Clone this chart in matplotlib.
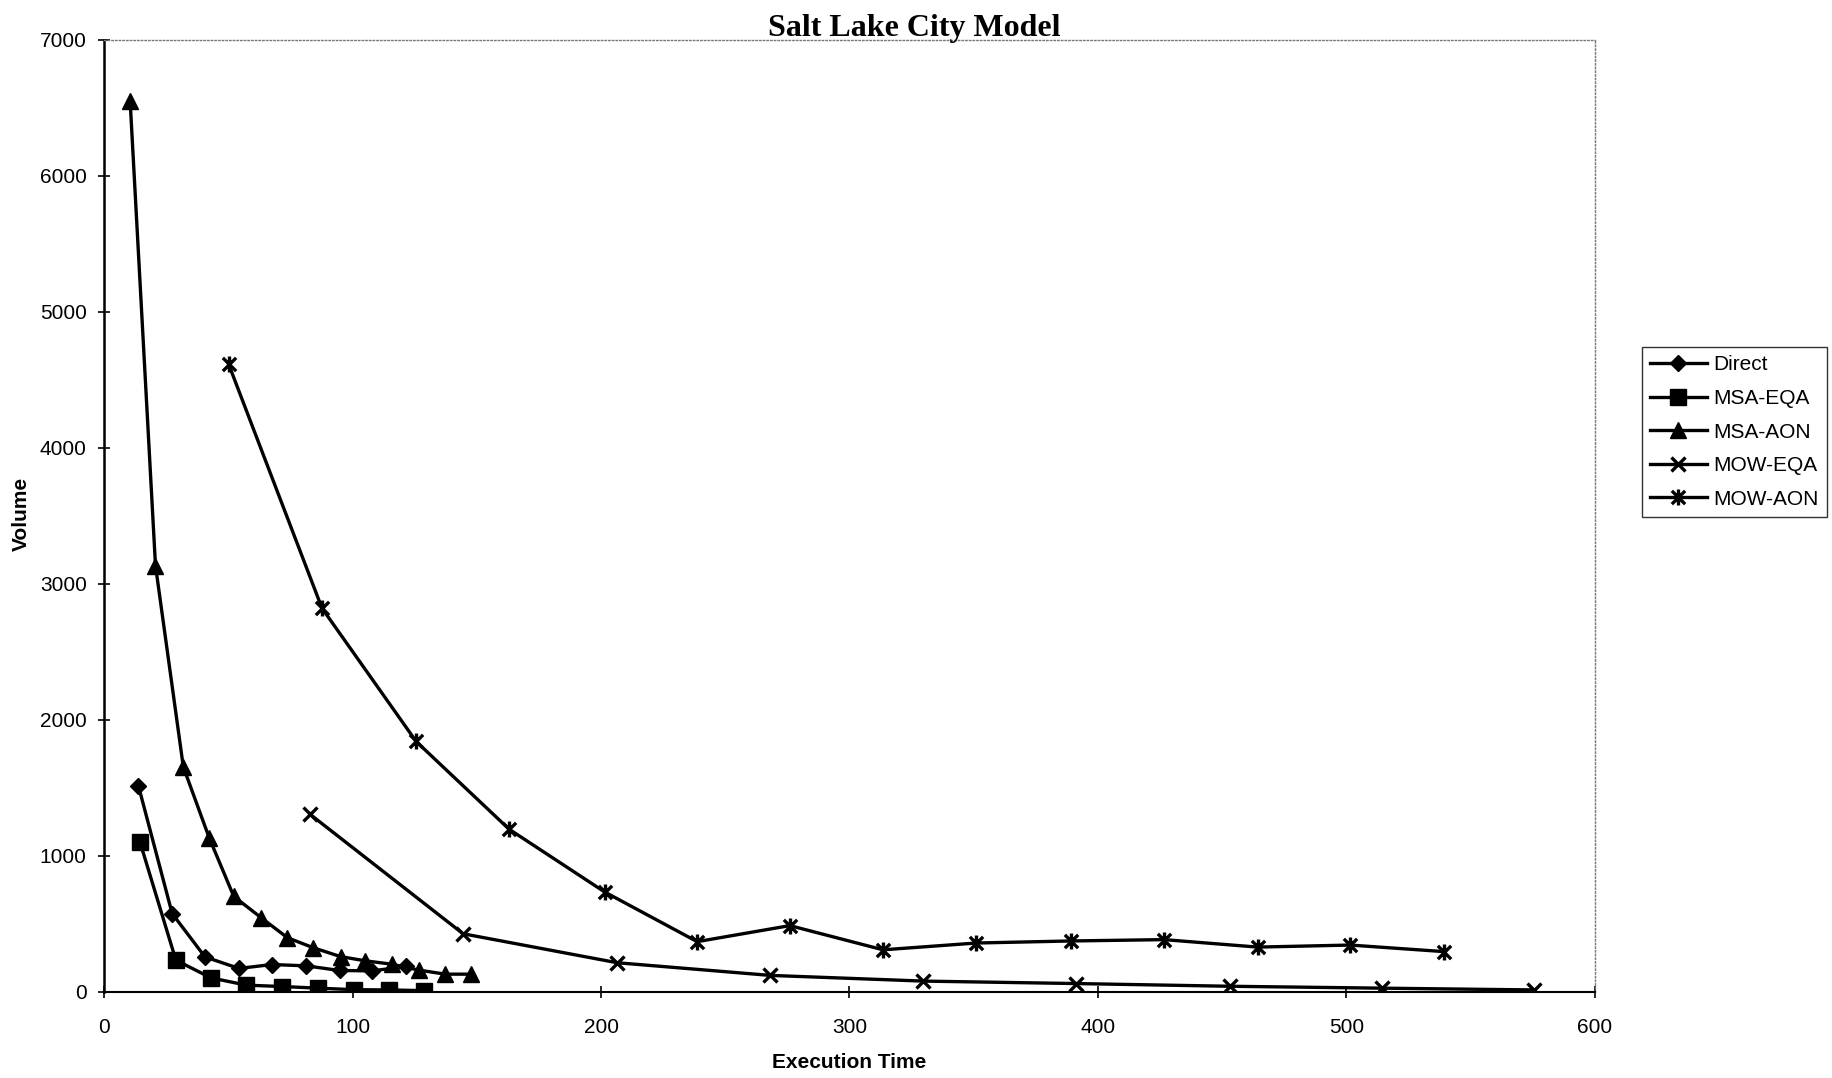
import numpy as np
import matplotlib
matplotlib.use("Agg")
import matplotlib.pyplot as plt
from matplotlib.path import Path

# execution time (x) and volume (y) for each solver
direct_t = [13.8, 27.4, 40.6, 54.3, 67.6, 81.4, 94.8, 107.9, 121.4]
direct_v = [1518, 577, 258, 173, 202, 192, 158, 155, 188]

msa_eqa_t = [14.5, 28.9, 43.0, 57.3, 71.8, 86.2, 100.5, 114.5, 128.6]
msa_eqa_v = [1100, 234, 104, 50, 40, 28, 17, 15, 10]

msa_aon_t = [10.5, 20.7, 31.9, 42.3, 52.2, 63.3, 73.8, 84.1, 95.2, 105.2,
             115.9, 126.6, 137.3, 147.7]
msa_aon_v = [6550, 3135, 1655, 1134, 703, 545, 399, 326, 260, 229, 204,
             161, 131, 131]

mow_eqa_t = [83.0, 144.5, 206.5, 268.0, 329.7, 391.0, 453.0, 514.3, 575.6]
mow_eqa_v = [1305, 428, 215, 122, 80, 62, 42, 28, 15]

mow_aon_t = [50.1, 87.7, 125.6, 163.0, 201.5, 238.7, 276.0, 313.5, 351.0,
             389.0, 426.6, 464.2, 501.5, 539.1]
mow_aon_v = [4618, 2822, 1842, 1197, 735, 370, 488, 310, 360, 375, 385,
             330, 345, 297]

labels = ["Direct", "MSA-EQA", "MSA-AON", "MOW-EQA", "MOW-AON"]

# excel style star: an x with a vertical bar through it
star = Path([(-0.5, -0.5), (0.5, 0.5), (-0.5, 0.5), (0.5, -0.5), (0, -0.6), (0, 0.6)],
            [Path.MOVETO, Path.LINETO, Path.MOVETO, Path.LINETO, Path.MOVETO, Path.LINETO])

plt.rcParams['font.family'] = ['Liberation Sans', 'DejaVu Sans']

fig = plt.figure(figsize=(18.32, 10.78), dpi=100)
ax = fig.add_axes([0.0568, 0.0798, 0.8138, 0.8831])

lw = 2.4
ax.plot(direct_t, direct_v, color='black', lw=lw, marker='D', ms=8.5, label=labels[0])
ax.plot(msa_eqa_t, msa_eqa_v, color='black', lw=lw, marker='s', ms=11, label=labels[1])
ax.plot(msa_aon_t, msa_aon_v, color='black', lw=lw, marker='^', ms=11, label=labels[2])
ax.plot(mow_eqa_t, mow_eqa_v, color='black', lw=lw, marker='x', ms=10.5, mew=2.4,
        label=labels[3])
ax.plot(mow_aon_t, mow_aon_v, color='black', lw=lw, marker=star, ms=11.5, mew=2.4,
        label=labels[4])

ax.set_xlim(0, 600)
ax.set_ylim(0, 7000)
ax.set_xticks(np.arange(0, 601, 100))
ax.set_yticks(np.arange(0, 7001, 1000))
ax.tick_params(direction='inout', length=9, width=1.2, labelsize=15, colors='black')
ax.tick_params(axis='y', pad=8)
ax.tick_params(axis='x', pad=14)

ax.spines['left'].set_linewidth(1.8)
ax.spines['bottom'].set_linewidth(1.5)
for side in ['top', 'right']:
    ax.spines[side].set_linestyle(':')
    ax.spines[side].set_color('#777777')
    ax.spines[side].set_linewidth(1.0)

ax.set_xlabel("Execution Time", fontsize=15, fontweight='bold', labelpad=12)
fig.text(21 / 1832, 0.523, "Volume", rotation=90, ha='center', va='center',
         fontsize=15, fontweight='bold')

fig.text(0.499, 0.974, "Salt Lake City Model", ha='center', va='center',
         fontsize=23, fontweight='bold', family='Liberation Serif')

leg = ax.legend(loc='upper left', bbox_to_anchor=(1642 / 1832, 1 - 347 / 1078),
                bbox_transform=fig.transFigure, borderaxespad=0, fontsize=15,
                frameon=True, fancybox=False, edgecolor='black', handlelength=2.7,
                handletextpad=0.3, labelspacing=0.7, borderpad=0.4)
leg.get_frame().set_linewidth(1.0)

fig.savefig("out.png", dpi=100, facecolor='white')
